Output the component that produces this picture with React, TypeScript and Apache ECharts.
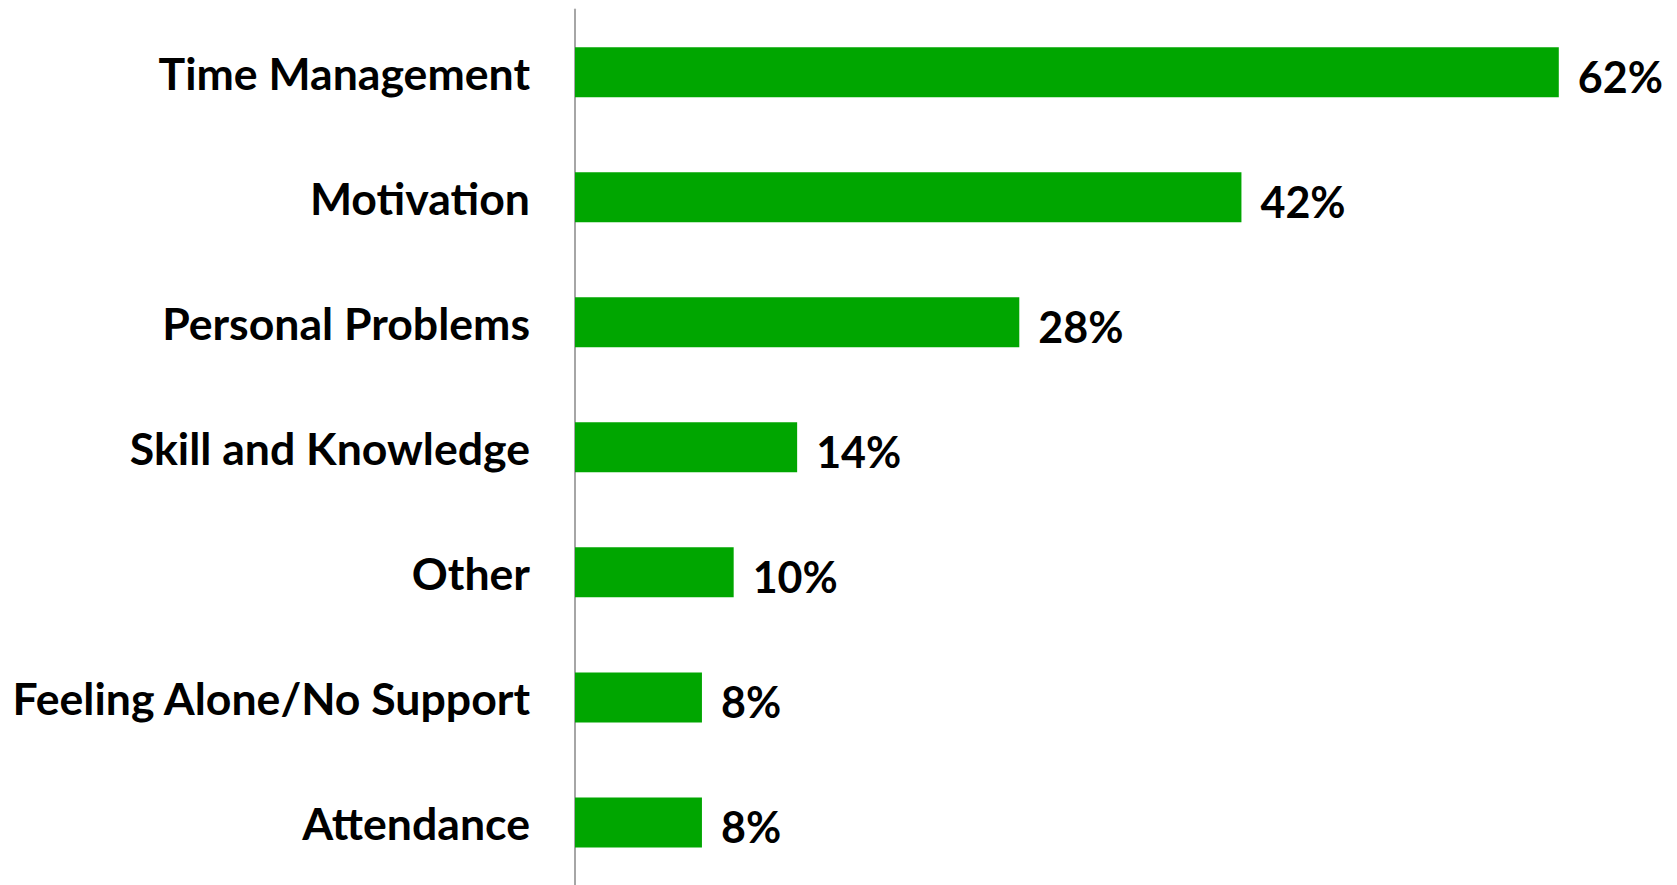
import React, { useEffect, useRef } from "react";
import * as echarts from "echarts";

const categories = [
  "Time Management",
  "Motivation",
  "Personal Problems",
  "Skill and Knowledge",
  "Other",
  "Feeling Alone/No Support",
  "Attendance",
];
const values = [62, 42, 28, 14, 10, 8, 8];

export default function App() {
  const ref = useRef<HTMLDivElement>(null);
  useEffect(() => {
    if (!ref.current) return;
    const chart = echarts.init(ref.current, null, { renderer: "svg" });
    chart.setOption({
      animation: false,
      backgroundColor: "#ffffff",
      grid: { left: 575, right: 23, top: 9.6, height: 881, containLabel: false },
      xAxis: {
        type: "value",
        min: 0,
        max: 68,
        show: false,
      },
      yAxis: {
        type: "category",
        data: categories,
        inverse: true,
        axisLine: { show: true, lineStyle: { color: "#a6a6a6", width: 2 } },
        axisTick: { show: false },
        splitLine: { show: false },
        axisLabel: {
          margin: 45,
          color: "#000000",
          fontFamily: "Lato",
          fontWeight: "bold",
          fontSize: 44.6,
          padding: [8, 0, 0, 0],
        },
      },
      series: [
        {
          type: "bar",
          data: values,
          barWidth: 50,
          itemStyle: { color: "#00a600" },
          label: {
            show: true,
            position: "right",
            distance: 19,
            offset: [0, 4],
            formatter: (p: any) => p.value + "%",
            color: "#000000",
            fontFamily: "Lato",
            fontWeight: "bold",
            fontSize: 43,
          },
        },
      ],
    });
    return () => chart.dispose();
  }, []);
  return (
    <div
      ref={ref}
      style={{ position: "fixed", left: 0, top: 0, width: 1677, height: 885, background: "#fff" }}
    />
  );
}
